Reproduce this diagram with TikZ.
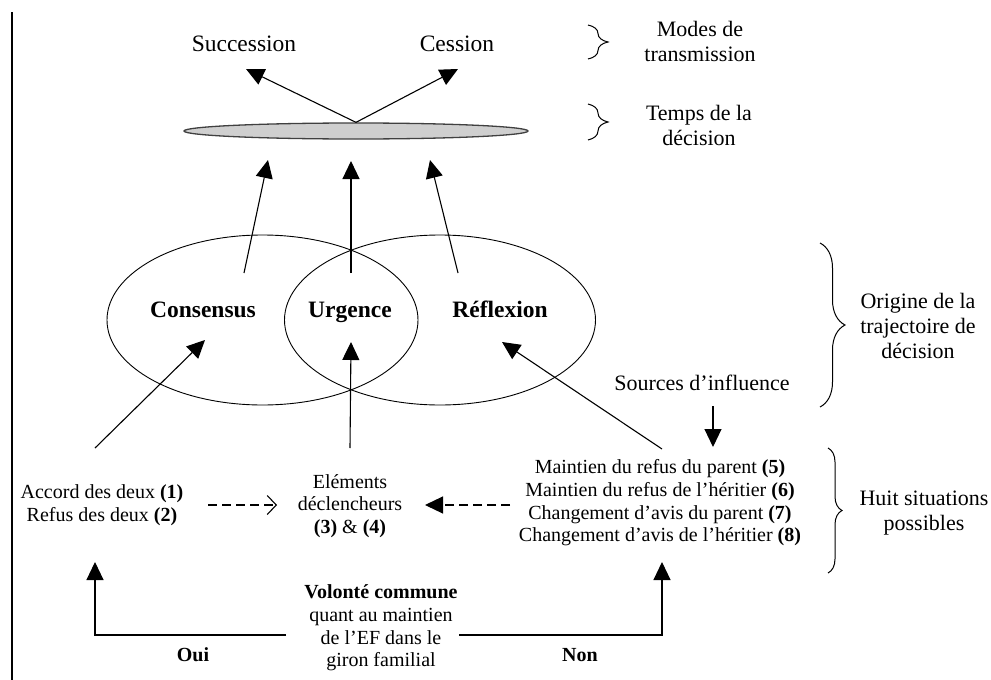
\documentclass[tikz,border=0pt]{standalone}
\usepackage{fontspec}
\setmainfont{Liberation Serif}
\usepackage{tikz}
\usetikzlibrary{arrows.meta}
\usetikzlibrary{decorations.pathreplacing}
\usetikzlibrary{positioning}
\usetikzlibrary{shapes}

\begin{document}
\begin{tikzpicture}
      [x=1pt,y=-1pt,
       mainLabel/.style={font=\fontsize{23.5}{26}\selectfont\bfseries,inner sep=0pt,anchor=base},
       modeLabel/.style={font=\fontsize{23.5}{26}\selectfont,inner sep=0pt},
       smallLabel/.style={align=center,font=\fontsize{20}{22.7}\selectfont,inner sep=0pt},
       sideLabel/.style={align=center,font=\fontsize{22}{25}\selectfont,inner sep=0pt},
       zoneEllipse/.style={ellipse,draw=black,line width=0.9pt,minimum width=311pt,minimum height=170pt,inner sep=0pt},
       flowArrow/.style={line width=1.1pt,-{Triangle[length=18pt,width=17pt]}},
       dashArrow/.style={line width=1.1pt,dash pattern=on 9pt off 5pt},
       sideBrace/.style={line width=1pt,decorate,decoration={brace,amplitude=#1}}]
      \useasboundingbox (0,0) rectangle (991,680);
      \draw[line width=1.2pt] (12,12) -- (12,680);

      % modes de transmission
      \node[modeLabel] (succession) at (244,44) {Succession};
      \node[modeLabel] (cession) at (457,44) {Cession};
      \node[ellipse,draw=black!75,line width=1.3pt,fill=black!19,minimum width=344pt,minimum height=16pt,inner sep=0pt] (decisionTime) at (356,131) {};
      \coordinate (succTip) at (246,69);
      \coordinate (cessTip) at (458,69);
      \draw[flowArrow] (decisionTime.north) -- (succTip);
      \draw[flowArrow] (decisionTime.north) -- (cessTip);

      \draw[sideBrace=20pt] (588,25) -- (588,59);
      \node[sideLabel] (modes) at (700,41) {Modes de\\transmission};
      \draw[sideBrace=20pt] (588,104) -- (588,140);
      \node[sideLabel] (temps) at (699,125) {Temps de la\\décision};

      % trajectoires
      \node[zoneEllipse] (consensusZone) at (262.5,320) {};
      \node[zoneEllipse] (reflexionZone) at (440,320) {};
      \node[mainLabel] (consensus) at (203,317) {Consensus};
      \node[mainLabel] (urgence) at (350,317) {Urgence};
      \node[mainLabel] (reflexion) at (500,317) {Réflexion};

      \coordinate (consensusTop) at (244,273);
      \coordinate (urgenceTop) at (351,273);
      \coordinate (reflexionTop) at (458,273);
      \coordinate (consensusUp) at (268,160);
      \coordinate (urgenceUp) at (351,161);
      \coordinate (reflexionUp) at (430,160);
      \draw[flowArrow] (consensusTop) -- (consensusUp);
      \draw[flowArrow] (urgenceTop) -- (urgenceUp);
      \draw[flowArrow] (reflexionTop) -- (reflexionUp);

      \draw[sideBrace=25pt] (820,243) -- (820,407);
      \node[sideLabel] (origine) at (918,326) {Origine de la\\trajectoire de\\décision};

      \node[sideLabel] (sources) at (702,383) {Sources d’influence};
      \coordinate (sourcesFrom) at (713,406);
      \coordinate (sourcesTo) at (713,447);
      \draw[flowArrow] (sourcesFrom) -- (sourcesTo);

      % situations
      \node[smallLabel] (accord) at (102,505) {Accord des deux \textbf{(1)}\\Refus des deux \textbf{(2)}};
      \node[smallLabel] (elements) at (350,506) {Eléments\\déclencheurs\\\textbf{(3)} \& \textbf{(4)}};
      \node[smallLabel] (maintien) at (660,503) {Maintien du refus du parent \textbf{(5)}\\Maintien du refus de l’héritier \textbf{(6)}\\Changement d’avis du parent \textbf{(7)}\\Changement d’avis de l’héritier \textbf{(8)}};

      \coordinate (accordUp) at (95,448);
      \coordinate (elementsUp) at (350,448);
      \coordinate (maintienUp) at (662,449);
      \coordinate (consensusIn) at (205,340);
      \coordinate (urgenceIn) at (351,342);
      \coordinate (reflexionIn) at (502,342);
      \draw[flowArrow] (accordUp) -- (consensusIn);
      \draw[flowArrow] (elementsUp) -- (urgenceIn);
      \draw[flowArrow] (maintienUp) -- (reflexionIn);

      \coordinate (accordDash) at (208,505);
      \coordinate (elementsLeft) at (277,505);
      \coordinate (maintienDash) at (510,505);
      \coordinate (elementsRight) at (425,505);
      \draw[dashArrow,-{Straight Barb[length=9pt,width=19pt,line width=1.1pt]}] (accordDash) -- (elementsLeft);
      \draw[dashArrow,-{Triangle[length=18pt,width=17pt]}] (maintienDash) -- (elementsRight);

      \draw[sideBrace=14pt] (828,448) -- (828,573);
      \node[sideLabel] (huit) at (924,513) {Huit situations\\possibles};

      % volonte commune
      \node[smallLabel] (volonte) at (381,628) {\textbf{Volonté commune}\\quant au maintien\\de l’EF dans le\\giron familial};
      \coordinate (ouiStart) at (286,635);
      \coordinate (nonStart) at (459,635);
      \coordinate (accordDown) at (95,562);
      \coordinate (maintienDown) at (662,562);
      \draw[flowArrow] (ouiStart) -| (accordDown);
      \draw[flowArrow] (nonStart) -| (maintienDown);
      \node[smallLabel,font=\fontsize{20}{22.7}\selectfont\bfseries] (oui) at (193,655) {Oui};
      \node[smallLabel,font=\fontsize{20}{22.7}\selectfont\bfseries] (non) at (580,655) {Non};
\end{tikzpicture}
\end{document}
